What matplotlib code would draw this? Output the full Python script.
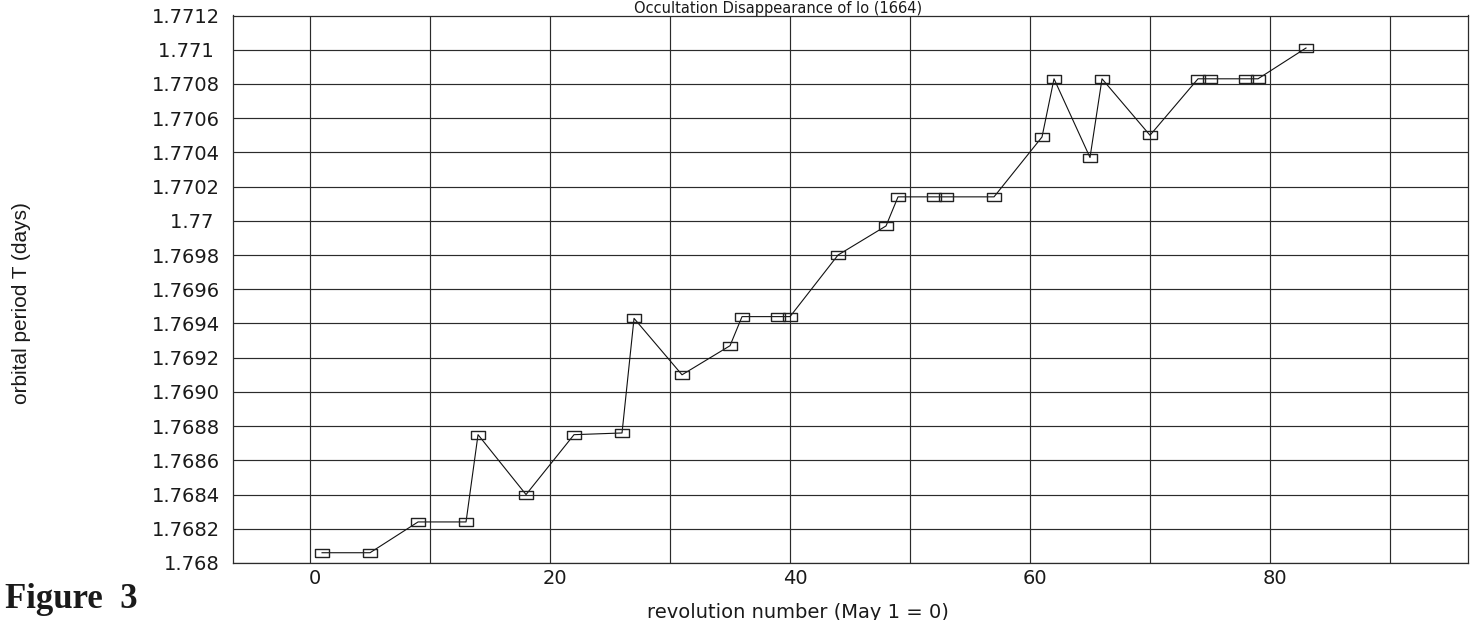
import matplotlib
matplotlib.use("Agg")
import matplotlib.pyplot as plt
from matplotlib.transforms import ScaledTranslation

# revolution number and measured orbital period of Io
rev = [1, 5, 9, 13, 14, 18, 22, 26, 27, 31, 35, 36, 39, 40, 44, 48, 49,
       52, 53, 57, 61, 62, 65, 66, 70, 74, 75, 78, 79, 83]
period = [1.76806, 1.76806, 1.76824, 1.76824, 1.76875, 1.76840, 1.76875,
          1.76876, 1.76943, 1.76910, 1.76927, 1.76944, 1.76944, 1.76944,
          1.76980, 1.76997, 1.77014, 1.77014, 1.77014, 1.77014, 1.77049,
          1.77083, 1.77037, 1.77083, 1.77050, 1.77083, 1.77083, 1.77083,
          1.77083, 1.77101]

y_ticks = [1.768, 1.7682, 1.7684, 1.7686, 1.7688, 1.7690, 1.7692, 1.7694,
           1.7696, 1.7698, 1.7700, 1.7702, 1.7704, 1.7706, 1.7708, 1.7710,
           1.7712]
y_labels = ['1.768', '1.7682', '1.7684', '1.7686', '1.7688', '1.7690',
            '1.7692', '1.7694', '1.7696', '1.7698', '1.77 ', '1.7702',
            '1.7704', '1.7706', '1.7708', '1.771 ', '1.7712']
x_major = [0, 20, 40, 60, 80]
x_minor = [10, 30, 50, 70, 90]

fig = plt.figure(figsize=(14.76, 6.2), dpi=100)
ax = fig.add_axes([233 / 1476, 57 / 620, 1235 / 1476, 547.5 / 620])

gridc = '#2b2b2b'
box = [(-1, -0.6), (1, -0.6), (1, 0.6), (-1, 0.6), (-1, -0.6)]
ax.plot(rev, period, color='#111111', lw=0.8, marker=box, ms=10.5,
        mfc='none', mec='#222222', mew=1.0, zorder=3)

ax.set_xlim(-6.42, 96.5)
ax.set_ylim(1.768, 1.7712)
ax.set_xticks(x_major)
ax.set_xticks(x_minor, minor=True)
ax.set_xticklabels([str(v) for v in x_major])
ax.set_yticks(y_ticks)
ax.set_yticklabels(y_labels)
ax.grid(True, which='both', color=gridc, lw=0.85)
ax.set_axisbelow(True)
ax.tick_params(axis='both', which='both', length=0)
ax.tick_params(axis='y', pad=9.5, labelsize=14, colors='#1a1a1a')
ax.tick_params(axis='x', pad=4.5, labelsize=14, colors='#1a1a1a')
for lab in ax.get_xticklabels():
    lab.set_transform(lab.get_transform() + ScaledTranslation(0.05, 0, fig.dpi_scale_trans))
for s in ax.spines.values():
    s.set_color(gridc)
    s.set_linewidth(0.9)

fig.text(778 / 1476, 1 - 0.5 / 620, 'Occultation Disappearance of Io (1664)',
         ha='center', va='top', fontsize=10.5, color='#1a1a1a')
fig.text(798 / 1476, 2 / 620, 'revolution number (May 1 = 0)',
         ha='center', va='baseline', fontsize=14, color='#1a1a1a')
fig.text(21.7 / 1476, 1 - 303 / 620, 'orbital period T (days)', rotation=90,
         ha='center', va='center', fontsize=15, family='Liberation Sans',
         color='#1a1a1a')
fig.text(5 / 1476, 1 - 608 / 620, 'Figure  3', ha='left', va='baseline',
         fontsize=25, family='Liberation Serif', weight='bold', color='#1a1a1a')

fig.savefig('out.png', dpi=100)
